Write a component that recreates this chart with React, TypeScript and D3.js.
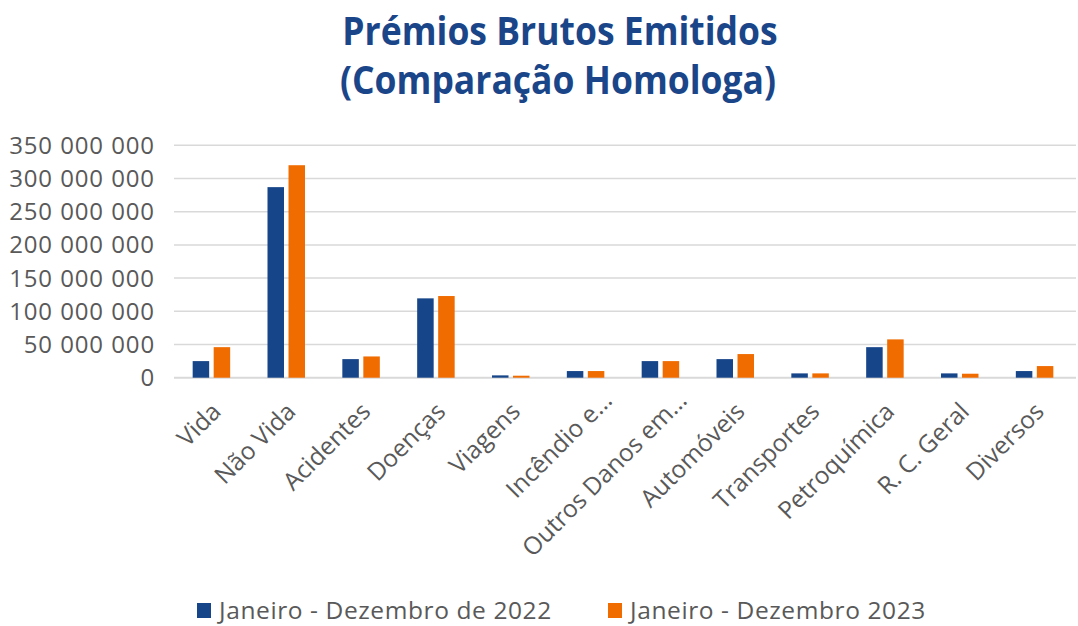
import React from "react";
import * as d3 from "d3";

const categories = ["Vida", "Não Vida", "Acidentes", "Doenças", "Viagens", "Incêndio e...", "Outros Danos em...", "Automóveis", "Transportes", "Petroquímica", "R. C. Geral", "Diversos"];
const series2022 = [25000000, 287000000, 28000000, 119500000, 3500000, 10000000, 25000000, 28000000, 6500000, 46000000, 6500000, 10000000];
const series2023 = [46000000, 320000000, 32000000, 123000000, 3000000, 10000000, 25000000, 35600000, 6500000, 57700000, 6000000, 17500000];
const yTicks = [0, 50000000, 100000000, 150000000, 200000000, 250000000, 300000000, 350000000];
const seriesNames = ["Janeiro - Dezembro de 2022", "Janeiro - Dezembro 2023"];
const colors = ["#174589", "#F06C00"];

const W = 1078, H = 626;
const left = 174, right = 1072, top = 145.3, bottom = 377.7;

const fmt = (v: number) => {
  if (v === 0) return "0";
  const s = String(v);
  return s.replace(/\B(?=(\d{3})+(?!\d))/g, " ");
};

export default function App() {
  const x = d3.scaleBand<string>().domain(categories).range([left, right]).padding(0);
  const y = d3.scaleLinear().domain([0, 350000000]).range([bottom, top]);
  const bw = x.bandwidth();
  const barW = 16.5, gap = 4.5;
  const font = "'Open Sans', sans-serif";
  const titleColor = "#1A4689";
  return (
    <svg width={W} height={H} style={{ position: "absolute", left: 0, top: 0, background: "#fff" }}>
      <g transform="translate(560,45) scale(1,1.12)">
        <text x={0} y={0} textAnchor="middle" fontFamily={font} fontWeight={700} fontSize={35.5} fill={titleColor}>Prémios Brutos Emitidos</text>
      </g>
      <g transform="translate(558,94) scale(1,1.12)">
        <text x={0} y={0} textAnchor="middle" fontFamily={font} fontWeight={700} fontSize={35.5} fill={titleColor}>(Comparação Homologa)</text>
      </g>
      {yTicks.map((t) => (
        <g key={t}>
          <line x1={left} x2={right + 4} y1={y(t)} y2={y(t)} stroke="#D9D9D9" strokeWidth={t === 0 ? 2 : 1.5} />
          <text x={155} y={y(t) + 8.5} textAnchor="end" fontFamily={font} fontSize={24} letterSpacing={0.9} fill="#595959">{fmt(t)}</text>
        </g>
      ))}
      {categories.map((c, i) => {
        const cx = (x(c) as number) + bw / 2;
        const trunc = c.endsWith("...");
        const ax = cx + (trunc ? 28 : 11);
        const ay = trunc ? 402 : 413;
        return (
          <g key={c}>
            <rect x={cx - gap / 2 - barW} y={y(series2022[i])} width={barW} height={bottom - y(series2022[i])} fill={colors[0]} />
            <rect x={cx + gap / 2} y={y(series2023[i])} width={barW} height={bottom - y(series2023[i])} fill={colors[1]} />
            <text transform={`translate(${ax},${ay}) rotate(-45)`} textAnchor="end" fontFamily={font} fontSize={24.5} fill="#595959">{c}</text>
          </g>
        );
      })}
      <rect x={197} y={603} width={14} height={15} fill={colors[0]} />
      <text x={219} y={619} fontFamily={font} fontSize={24.5} letterSpacing={0.6} fill="#595959">{seriesNames[0]}</text>
      <rect x={608} y={603} width={14} height={15} fill={colors[1]} />
      <text x={630} y={619} fontFamily={font} fontSize={24.5} letterSpacing={0.6} fill="#595959">{seriesNames[1]}</text>
    </svg>
  );
}
